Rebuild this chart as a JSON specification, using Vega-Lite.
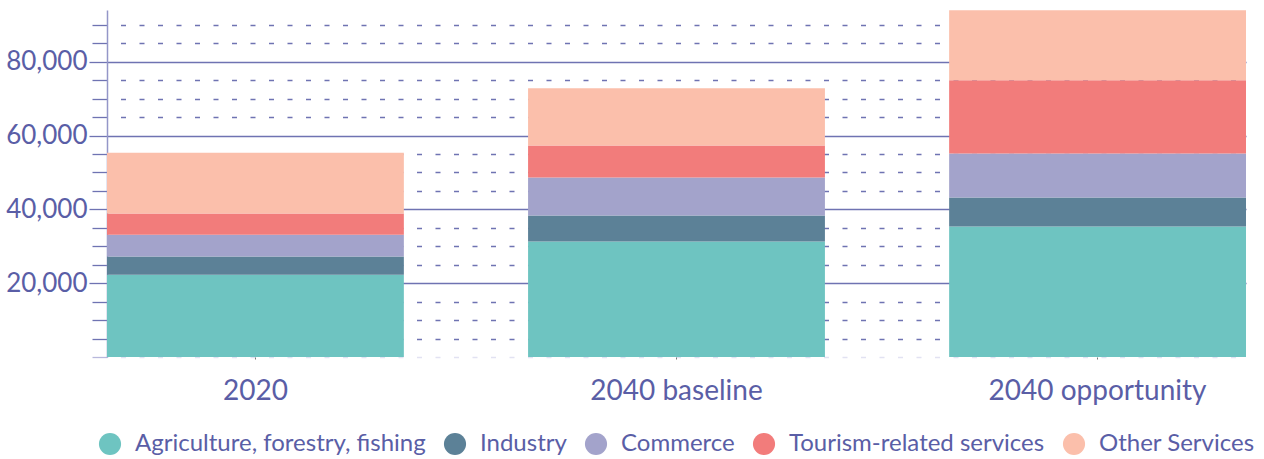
{
  "$schema": "https://vega.github.io/schema/vega-lite/v6.json",
  "width": 1139,
  "height": 347,
  "autosize": {"type": "none"},
  "padding": {"left": 107, "top": 10, "right": 18, "bottom": 102},
  "background": "white",
  "data": {
    "values": [
      {"scenario": "2020", "sector": "Agriculture, forestry, fishing", "k": 1, "jobs": 22300},
      {"scenario": "2020", "sector": "Industry", "k": 2, "jobs": 4900},
      {"scenario": "2020", "sector": "Commerce", "k": 3, "jobs": 5900},
      {"scenario": "2020", "sector": "Tourism-related services", "k": 4, "jobs": 5750},
      {"scenario": "2020", "sector": "Other Services", "k": 5, "jobs": 16500},
      {"scenario": "2040 baseline", "sector": "Agriculture, forestry, fishing", "k": 1, "jobs": 31280},
      {"scenario": "2040 baseline", "sector": "Industry", "k": 2, "jobs": 7050},
      {"scenario": "2040 baseline", "sector": "Commerce", "k": 3, "jobs": 10300},
      {"scenario": "2040 baseline", "sector": "Tourism-related services", "k": 4, "jobs": 8680},
      {"scenario": "2040 baseline", "sector": "Other Services", "k": 5, "jobs": 15460},
      {"scenario": "2040 opportunity", "sector": "Agriculture, forestry, fishing", "k": 1, "jobs": 35350},
      {"scenario": "2040 opportunity", "sector": "Industry", "k": 2, "jobs": 7860},
      {"scenario": "2040 opportunity", "sector": "Commerce", "k": 3, "jobs": 11930},
      {"scenario": "2040 opportunity", "sector": "Tourism-related services", "k": 4, "jobs": 19800},
      {"scenario": "2040 opportunity", "sector": "Other Services", "k": 5, "jobs": 18990}
    ]
  },
  "mark": {"type": "bar"},
  "encoding": {
    "x": {
      "field": "scenario",
      "type": "nominal",
      "sort": null,
      "scale": {"paddingInner": 0.295, "paddingOuter": 0},
      "axis": {
        "title": null,
        "labelAngle": 0,
        "labelLimit": 0,
        "domain": false,
        "ticks": true,
        "tickSize": 2,
        "tickColor": "#777777",
        "grid": false,
        "labelFont": "Lato",
        "labelFontSize": 28,
        "labelColor": "#5a5ea6",
        "labelPadding": 18
      }
    },
    "y": {
      "field": "jobs",
      "type": "quantitative",
      "stack": "zero",
      "scale": {"domain": [0, 94000], "nice": false, "zero": true},
      "axis": {
        "title": null,
        "values": [0, 5000, 10000, 15000, 20000, 25000, 30000, 35000, 40000, 45000, 50000, 55000, 60000, 65000, 70000, 75000, 80000, 85000, 90000],
        "labelExpr": "datum.value > 0 && datum.value % 20000 === 0 ? format(datum.value, ',') : ''",
        "labelFont": "Lato",
        "labelFontSize": 26,
        "labelColor": "#5a5ea6",
        "labelPadding": 2,
        "domain": true,
        "domainColor": "#9496c8",
        "domainWidth": 1.5,
        "grid": true,
        "gridColor": {"condition": {"test": "datum.value === 0", "value": "#e2e2f2"}, "value": "#6f73b2"},
        "gridDash": {"condition": {"test": "datum.value > 0 && datum.value % 20000 === 0", "value": []}, "value": [5, 13.5]},
        "gridDashOffset": 5,
        "gridWidth": 1.3,
        "gridOpacity": 1,
        "ticks": true,
        "tickSize": {"condition": {"test": "datum.value > 0 && datum.value % 20000 === 0", "value": 18}, "value": 15},
        "tickColor": {"condition": {"test": "datum.value === 0", "value": "#b8b8dc"}, "value": "#6f73b2"},
        "tickWidth": 1.3
      }
    },
    "color": {
      "field": "sector",
      "type": "nominal",
      "sort": ["Agriculture, forestry, fishing", "Industry", "Commerce", "Tourism-related services", "Other Services"],
      "scale": {
        "domain": ["Agriculture, forestry, fishing", "Industry", "Commerce", "Tourism-related services", "Other Services"],
        "range": ["#6ec4c1", "#5c8197", "#a3a3cb", "#f27c7b", "#fbbfab"]
      },
      "legend": {
        "title": null,
        "orient": "bottom",
        "direction": "horizontal",
        "symbolType": "circle",
        "symbolSize": 490,
        "symbolStrokeWidth": 0,
        "symbolOpacity": 1,
        "labelFont": "Lato",
        "labelFontSize": 24,
        "labelColor": "#5a5ea6",
        "labelLimit": 0,
        "labelOffset": 13,
        "columnPadding": 17,
        "offset": 27
      }
    },
    "order": {"field": "k", "type": "quantitative", "sort": "ascending"}
  },
  "config": {
    "view": {"stroke": null},
    "legend": {"layout": {"bottom": {"anchor": "middle"}}}
  }
}
